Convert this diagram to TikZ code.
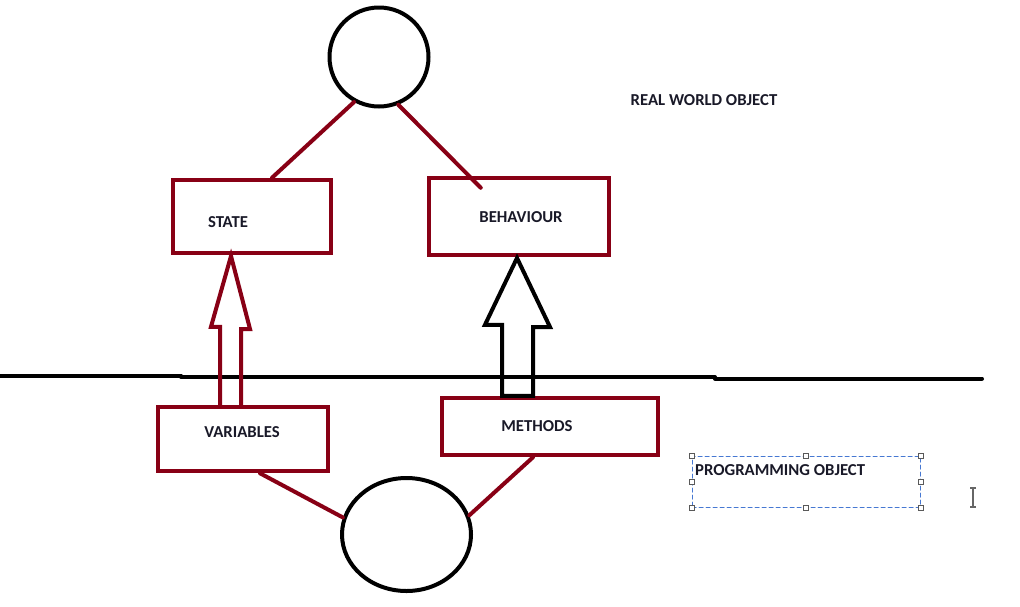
\documentclass[tikz,border=0pt]{standalone}
\usepackage{fontspec}
\setmainfont{Carlito}
\usepackage{tikz}
\definecolor{colorBox}{RGB}{136,0,21}
\definecolor{colorTxt}{RGB}{25,25,40}
\definecolor{colorSel}{RGB}{70,120,210}
\colorlet{colorObj}{black}
\colorlet{colorCur}{gray!80!black}
\usetikzlibrary{calc}
\usetikzlibrary{positioning}
\usetikzlibrary{shapes,shapes.geometric}
\tikzset{
   every path/.style={line cap=round,line join=miter},
   obj/.style={circle,draw=colorObj,line width=4pt,inner sep=0pt},
   objell/.style={ellipse,draw=colorObj,line width=4pt,inner sep=0pt},
   part/.style={rectangle,draw=colorBox,line width=4.5pt,inner sep=0pt},
   link/.style={color=colorBox,line width=4pt},
   redarrow/.style={color=colorBox,line width=4pt,line join=miter},
   blkarrow/.style={color=colorObj,line width=4pt,line join=miter},
   ground/.style={color=colorObj,line width=4pt},
   lbl/.style={text=colorTxt,font=\bfseries\fontsize{16.7}{19}\selectfont,inner sep=0pt},
   selbox/.style={rectangle,draw=colorSel,line width=1pt,dash pattern=on 4pt off 3pt,inner sep=0pt},
   handle/.style={rectangle,draw=gray!70!black,fill=white,line width=0.7pt,minimum size=5pt,inner sep=0pt},
   cursor/.style={color=colorCur,line width=1.6pt,line cap=butt},
}

\begin{document}
\begin{tikzpicture}[x=1pt,y=-1pt]
        \useasboundingbox (0,0) rectangle (1020,606);

        \node[obj, minimum size=99] (real) at (379,57) {};
        \node[objell, minimum width=129, minimum height=113] (prog) at (406.5,534.5) {};

        \node[part, minimum width=158, minimum height=73] (state) at (252,216.5) {};
        \node[part, minimum width=180, minimum height=77] (behaviour) at (519,216.5) {};
        \node[part, minimum width=170, minimum height=64] (variables) at (243,439) {};
        \node[part, minimum width=216, minimum height=57] (methods) at (550,426.5) {};

        \node[lbl] (stateTxt) at (228,222) {STATE};
        \node[lbl] (behaviourTxt) at (521,217) {BEHAVIOUR};
        \node[lbl] (variablesTxt) at (242,432) {VARIABLES};
        \node[lbl] (methodsTxt) at (537,426) {METHODS};
        \node[lbl] (realTxt) at (704,100) {REAL WORLD OBJECT};

        \draw[link] (real.241) -- ($(state.north)+(20,0)$);
        \draw[link] (real.292) -- ($(behaviour.north west)+(54,12)$);
        \draw[link] ($(variables.south)+(17,0)$) -- (prog.165);
        \draw[link] ($(methods.south)+(-17,0)$) -- (prog.17);

        \draw[ground] (0,375.5) -- (181,375.5) (181,377) -- (715,377) (715,378.5) -- (982,378.5);

        % hollow arrows
        \coordinate (redTip) at (231,256);
        \coordinate (blkTip) at (517,258);
        \draw[redarrow] ($(variables.north)+(-23,0)$) -- ++(0,-78) -- ++(-9,0) -- (redTip)
             -- (250,329) -- (241,329) -- ($(variables.north)+(-2,0)$);
        \draw[blkarrow] ($(methods.north)+(-48,0)$) -- ++(0,-71) -- ++(-17,0) -- (blkTip)
             -- (550,327) -- (533,327) -- ($(methods.north)+(-17,0)$) -- cycle;

        \node[selbox, minimum width=228, minimum height=51] (progBox) at (806,481.5) {};
        \foreach \a in {north west,north,north east,east,south east,south,south west,west}
             \node[handle] at (progBox.\a) {};
        \node[lbl, anchor=west] (progTxt) at (695,470) {PROGRAMMING OBJECT};

        \draw[cursor] (970,488) -- (976,488) (973,488) -- (973,507) (970,507) -- (976,507);
\end{tikzpicture}
\end{document}
